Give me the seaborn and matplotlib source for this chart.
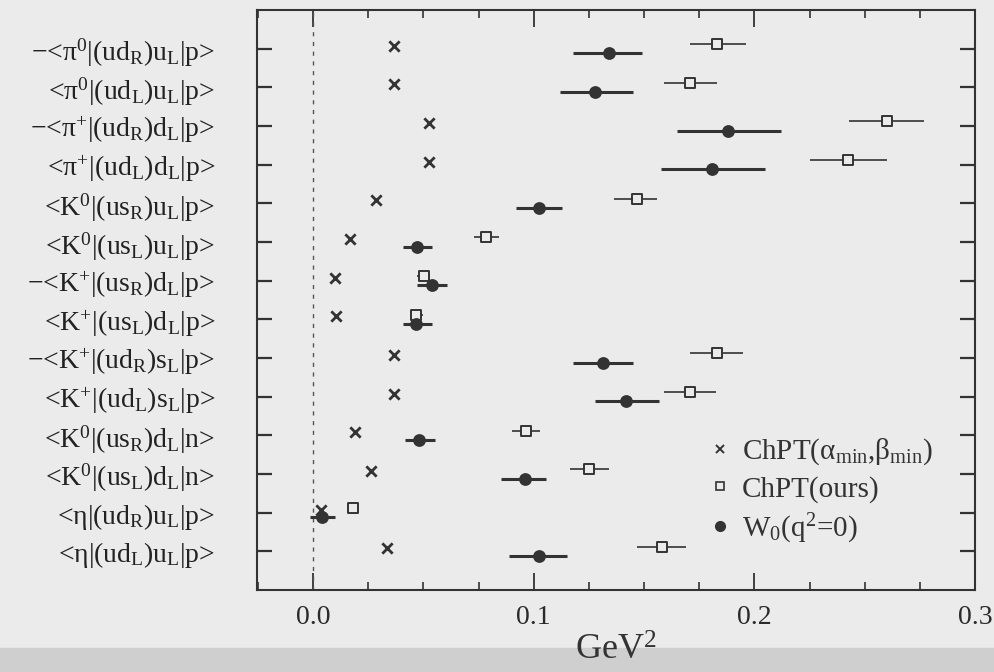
import matplotlib
matplotlib.use("Agg")
import matplotlib.pyplot as plt
from matplotlib.lines import Line2D
from matplotlib.patches import Rectangle
from matplotlib.ticker import MultipleLocator
import pandas as pd
import seaborn as sns

# matrix elements (rows top to bottom)
labels = [
    "−<π$^{0}$|(ud$_R$)u$_L$|p>",
    "<π$^{0}$|(ud$_L$)u$_L$|p>",
    "−<π$^{+}$|(ud$_R$)d$_L$|p>",
    "<π$^{+}$|(ud$_L$)d$_L$|p>",
    "<K$^{0}$|(us$_R$)u$_L$|p>",
    "<K$^{0}$|(us$_L$)u$_L$|p>",
    "−<K$^{+}$|(us$_R$)d$_L$|p>",
    "<K$^{+}$|(us$_L$)d$_L$|p>",
    "−<K$^{+}$|(ud$_R$)s$_L$|p>",
    "<K$^{+}$|(ud$_L$)s$_L$|p>",
    "<K$^{0}$|(us$_R$)d$_L$|n>",
    "<K$^{0}$|(us$_L$)d$_L$|n>",
    "<η|(ud$_R$)u$_L$|p>",
    "<η|(ud$_L$)u$_L$|p>",
]

# ChPT(alpha_min, beta_min)
cross_x = [0.0367, 0.0367, 0.0526, 0.0526, 0.0284, 0.0166, 0.0101,
           0.0103, 0.0367, 0.0367, 0.0189, 0.0262, 0.0038, 0.0336]

# ChPT(ours)
square_x = [0.183, 0.171, 0.260, 0.2425, 0.1467, 0.0786, 0.0502,
            0.0469, 0.183, 0.1708, 0.0967, 0.1251, 0.0181, 0.158]
square_lo = [0.171, 0.159, 0.243, 0.225, 0.1366, 0.0728, 0.047,
             0.044, 0.171, 0.159, 0.090, 0.1164, 0.0181, 0.147]
square_hi = [0.196, 0.183, 0.277, 0.260, 0.1558, 0.0843, 0.053,
             0.050, 0.195, 0.1825, 0.103, 0.1342, 0.0181, 0.169]

# W0(q^2=0)
circle_x = [0.134, 0.128, 0.188, 0.181, 0.1025, 0.0472, 0.0537,
            0.0466, 0.1315, 0.142, 0.0481, 0.096, 0.0042, 0.1023]
circle_lo = [0.118, 0.112, 0.165, 0.1575, 0.092, 0.041, 0.047,
             0.041, 0.1176, 0.128, 0.0416, 0.0854, -0.0012, 0.0889]
circle_hi = [0.149, 0.145, 0.212, 0.205, 0.113, 0.054, 0.0605,
             0.0537, 0.145, 0.157, 0.0552, 0.1058, 0.0098, 0.1149]

BG = "#ebebeb"
INK = "#333333"

sns.set_theme(style="ticks")
plt.rcParams["font.family"] = ["Liberation Serif", "DejaVu Serif"]
plt.rcParams["mathtext.default"] = "regular"

rows = list(range(1, len(labels) + 1))
cross_df = pd.DataFrame({"row": [r - 0.08 for r in rows], "x": cross_x})
square_df = pd.DataFrame({"row": [r - 0.12 for r in rows], "x": square_x,
                          "lo": square_lo, "hi": square_hi})
circle_df = pd.DataFrame({"row": [r + 0.12 for r in rows], "x": circle_x,
                          "lo": circle_lo, "hi": circle_hi})

fig = plt.figure(figsize=(9.95, 6.72), dpi=100, facecolor=BG)
ax = fig.add_axes([0.258, 0.122, 0.722, 0.863])
ax.set_facecolor(BG)

# bottom grey strip of the scan
fig.add_artist(Rectangle((0, 0), 1, 24 / 672, transform=fig.transFigure,
                         color="#cfcfcf", zorder=0))

ax.axvline(0, color="#555555", lw=1.0, ls=(0, (3, 4)), zorder=1)

# error bars
ax.hlines(square_df["row"], square_df["lo"], square_df["hi"], color=INK, lw=1.2, zorder=2)
ax.hlines(circle_df["row"], circle_df["lo"], circle_df["hi"], color=INK, lw=2.2, zorder=2)

sns.scatterplot(data=cross_df, x="x", y="row", ax=ax, marker="x", s=55,
                color=INK, linewidth=2.0, zorder=3, legend=False)
sns.scatterplot(data=square_df, x="x", y="row", ax=ax, marker="s", s=55,
                facecolor=BG, edgecolor=INK, linewidth=1.4, zorder=4, legend=False)
sns.scatterplot(data=circle_df, x="x", y="row", ax=ax, marker="o", s=85,
                color=INK, edgecolor=INK, linewidth=0, zorder=5, legend=False)

ax.set_xlim(-0.0255, 0.3)
ax.set_ylim(len(labels) + 1, 0)
ax.xaxis.set_minor_locator(MultipleLocator(0.025))
ax.set_xticks([0.0, 0.1, 0.2, 0.3])
ax.set_xticklabels(["0.0", "0.1", "0.2", "0.3"])
ax.set_yticks(rows)
ax.set_yticklabels(labels)

ax.tick_params(axis="x", which="major", direction="in", top=True, bottom=True,
               length=12, width=1.3, color=INK, labelsize=20, pad=11, labelcolor="#2a2a2a")
ax.tick_params(axis="x", which="minor", direction="in", top=True, bottom=True,
               length=5.5, width=1.2, color=INK)
ax.tick_params(axis="y", which="major", direction="in", left=True, right=True,
               length=11, width=1.6, color=INK, labelsize=20, pad=30, labelcolor="#222222")
for s in ax.spines.values():
    s.set_color(INK)
    s.set_linewidth(1.5)

ax.set_xlabel("GeV$^2$", fontsize=26, color="#333333", labelpad=3)
ax.set_ylabel("")

handles = [
    Line2D([], [], ls="none", marker="x", ms=6, mew=1.4, color=INK),
    Line2D([], [], ls="none", marker="s", ms=6, mfc=BG, mec=INK, mew=1.2),
    Line2D([], [], ls="none", marker="o", ms=7, color=INK),
]
leg_labels = ["ChPT(α$_{min}$,β$_{min}$)", "ChPT(ours)", "W$_0$(q$^2$=0)"]
ax.legend(handles, leg_labels, loc="upper left", bbox_to_anchor=(0.608, 0.29),
          frameon=False, fontsize=21, handlelength=0.8, handletextpad=0.35,
          labelspacing=0.3, borderpad=0, labelcolor="#333333")

fig.savefig("out.png", dpi=100, facecolor=BG)
